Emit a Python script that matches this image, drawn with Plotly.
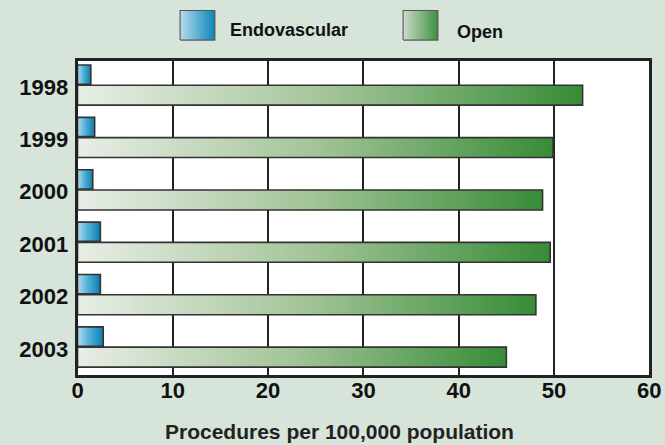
import plotly.graph_objects as go

# ---- data ----
years = ['1998', '1999', '2000', '2001', '2002', '2003']
endovascular = [1.4, 1.8, 1.6, 2.4, 2.4, 2.7]
open_repair = [53.0, 49.9, 48.8, 49.6, 48.1, 45.0]
x_ticks = [0, 10, 20, 30, 40, 50, 60]
series_names = ['Endovascular', 'Open']
x_title = 'Procedures per 100,000 population'

# ---- styling ----
W, H = 665, 445
L, R, T, B = 77.5, 649.3, 60.7, 375.0
FONT = 'Liberation Sans, Arial, sans-serif'
BG = '#d6e4d9'
BLUE_SCALE = [[0, '#b4dcf0'], [0.45, '#52b0d8'], [1, '#0a7eac']]
GREEN_SCALE = [[0, '#e8eee6'], [0.5, '#a3c498'], [1, '#378c37']]
LEG_BLUE = [[0, '#b6dcf0'], [1, '#0a86b6']]
LEG_GREEN = [[0, '#cddccb'], [1, '#3d903d']]
EDGE = '#333333'
# bar offsets within each category band (fraction of band)
ENDO_OFF = (-0.418, -0.05)
OPEN_OFF = (-0.032, 0.349)

fig = go.Figure()


def add_bar(i, value, off, scale, name):
    y0, y1 = i + off[0], i + off[1]
    fig.add_trace(go.Scatter(
        x=[0, value, value, 0, 0], y=[y0, y0, y1, y1, y0],
        mode='lines', fill='toself',
        fillgradient=dict(type='horizontal', colorscale=scale),
        line=dict(color=EDGE, width=1.6),
        name=name, showlegend=False,
        hoveron='fills', text=f'{name} {years[i]}: {value}', hoverinfo='text'))


for i in range(len(years)):
    add_bar(i, endovascular[i], ENDO_OFF, BLUE_SCALE, series_names[0])
    add_bar(i, open_repair[i], OPEN_OFF, GREEN_SCALE, series_names[1])

# legend swatches in their own tiny axes
for k, (x0, scale) in enumerate([(179, LEG_BLUE), (402, LEG_GREEN)]):
    ax = str(k + 2)
    fig.add_trace(go.Scatter(
        x=[0, 1, 1, 0, 0], y=[0, 0, 1, 1, 0], mode='lines', fill='toself',
        fillgradient=dict(type='horizontal', colorscale=scale),
        line=dict(color='#555555', width=1.2), showlegend=False,
        hoverinfo='skip', xaxis='x' + ax, yaxis='y' + ax))
    fig.update_layout(**{
        'xaxis' + ax: dict(domain=[x0 / W, (x0 + 37) / W], range=[-0.03, 1.03],
                           visible=False, anchor='y' + ax, fixedrange=True,
                           automargin=False),
        'yaxis' + ax: dict(domain=[1 - 41 / H, 1 - 9.5 / H], range=[-0.03, 1.03],
                           visible=False, anchor='x' + ax, fixedrange=True,
                           automargin=False),
    })

fig.add_annotation(text=series_names[0], x=228 / W, y=1 - 30 / H, xref='paper', yref='paper',
                   xanchor='left', yanchor='middle', showarrow=False,
                   font=dict(family=FONT, size=18, color='#111111', weight='bold'))
fig.add_annotation(text=series_names[1], x=455 / W, y=1 - 32 / H, xref='paper', yref='paper',
                   xanchor='left', yanchor='middle', showarrow=False,
                   font=dict(family=FONT, size=18, color='#111111', weight='bold'))
fig.add_annotation(text=x_title, x=339.5 / W, y=1 - 431 / H, xref='paper', yref='paper',
                   xanchor='center', yanchor='middle', showarrow=False,
                   font=dict(family=FONT, size=21, color='#222222', weight='bold'))

fig.update_layout(
    width=W, height=H,
    margin=dict(l=0, r=0, t=0, b=0, autoexpand=False),
    paper_bgcolor=BG, plot_bgcolor='white',
    font=dict(family=FONT, color='#111111'),
    showlegend=False,
    xaxis=dict(domain=[L / W, R / W], range=[0, 60], tickvals=x_ticks,
               showgrid=True, gridcolor='#222222', gridwidth=2.2,
               showline=True, linecolor='#222222', linewidth=2.6, mirror=True,
               zeroline=False, ticks='', ticklabelstandoff=-6, automargin=False,
               tickfont=dict(family=FONT, size=22, color='#111111', weight='bold'),
               anchor='y'),
    yaxis=dict(domain=[1 - B / H, 1 - T / H], range=[len(years) - 0.5, -0.5],
               tickvals=list(range(len(years))), ticktext=years,
               showgrid=False, zeroline=False, automargin=False,
               showline=True, linecolor='#222222', linewidth=2.6, mirror=True,
               ticks='', ticklabelstandoff=2,
               tickfont=dict(family=FONT, size=22, color='#111111', weight='bold'),
               anchor='x'),
)

fig.write_html('out.html', config={'displayModeBar': False},
               post_script="document.body.style.margin='0';document.body.style.overflow='hidden';")
